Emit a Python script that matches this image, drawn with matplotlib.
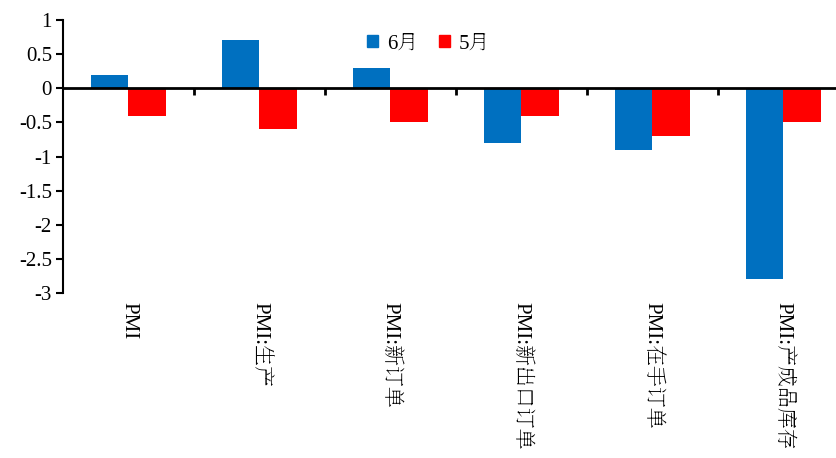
import matplotlib
matplotlib.use("Agg")
import matplotlib.pyplot as plt
from matplotlib.patches import Patch
from matplotlib.transforms import blended_transform_factory, offset_copy
from matplotlib import font_manager as fm
import numpy as np

categories = ["PMI", "PMI:生产", "PMI:新订单", "PMI:新出口订单", "PMI:在手订单", "PMI:产成品库存"]
june = [0.2, 0.7, 0.3, -0.8, -0.9, -2.8]
may = [-0.4, -0.6, -0.5, -0.4, -0.7, -0.5]
series_names = ["6月", "5月"]
yticks = [1, 0.5, 0, -0.5, -1, -1.5, -2, -2.5, -3]
ytick_labels = ["1", "0.5", "0", "-0.5", "-1", "-1.5", "-2", "-2.5", "-3"]

available = set(f.name for f in fm.fontManager.ttflist)
fam = ["Liberation Serif"]
for cand in ["Noto Serif CJK SC", "Noto Serif SC", "Noto Sans CJK SC"]:
    if cand in available:
        fam.append(cand)
        break
plt.rcParams["font.family"] = fam

W, H = 837, 458
fig = plt.figure(figsize=(W / 100, H / 100), dpi=100)
ax = fig.add_axes([63 / W, 1 - 293 / H, 786 / W, 273 / H])

x = np.arange(len(categories))
bw = 0.285
blue = "#0070C0"
red = "#FF0000"
ax.bar(x - bw / 2, june, bw, color=blue, zorder=2)
ax.bar(x + bw / 2, may, bw, color=red, zorder=2)

ax.set_xlim(-0.5, len(categories) - 0.5)
ax.set_ylim(-3, 1)
ax.set_yticks(yticks)
ax.set_yticklabels(ytick_labels, fontsize=15, family=fam)
ax.tick_params(axis="y", direction="out", length=5, width=1.5, pad=3)

for s in ["top", "right"]:
    ax.spines[s].set_visible(False)
ax.spines["left"].set_linewidth(1.5)
ax.spines["bottom"].set_position(("data", 0))
ax.spines["bottom"].set_linewidth(2)
ax.spines["bottom"].set_zorder(3)

ax.set_xticks(x)
ax.set_xticklabels([])
ax.tick_params(axis="x", which="major", length=0)
ax.set_xticks(x[:-1] + 0.5, minor=True)
ax.tick_params(axis="x", which="minor", direction="out", length=5, width=2)

trans = blended_transform_factory(ax.transData, ax.transAxes)
trans = offset_copy(trans, fig=fig, x=0, y=-9, units="dots")
for xi, lab in zip(x, categories):
    ax.text(xi, 0, lab, transform=trans, rotation=270, ha="center", va="top",
            fontsize=15, family=fam)

handles = [Patch(color=blue), Patch(color=red)]
ax.legend(handles, series_names, loc="center", bbox_to_anchor=(0.465, 0.912),
          ncol=2, frameon=False, prop={"family": fam, "size": 15},
          handlelength=0.55, handleheight=0.55,
          handletextpad=0.4, columnspacing=1.0, borderaxespad=0)

fig.savefig("out.png", dpi=100)
